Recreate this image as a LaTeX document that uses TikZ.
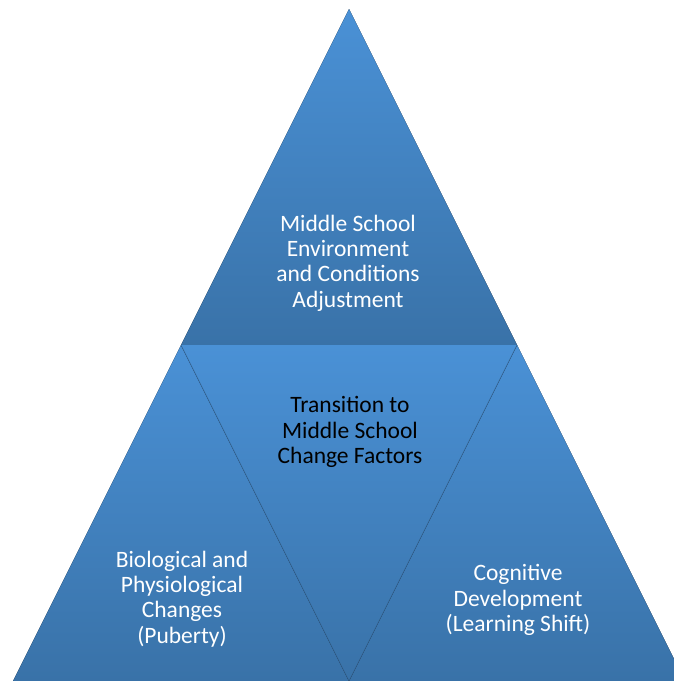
\documentclass[tikz,border=0pt]{standalone}
\usepackage{fontspec}
\setmainfont{Carlito}
\definecolor{blueTop}{RGB}{74,145,214}
\definecolor{blueBot}{RGB}{57,114,168}
\definecolor{edgeShade}{RGB}{50,95,140}
\begin{document}
\begin{tikzpicture}[x=1pt,y=-1pt,
  seg/.style={top color=blueTop,bottom color=blueBot,draw=none},
  segline/.style={draw=edgeShade,line width=0.7pt,opacity=0.5},
  lbl/.style={align=center,font=\fontsize{23.5}{25.3}\selectfont,text=white,inner sep=0pt},
  lblk/.style={lbl,text=black}]
\useasboundingbox (0,0) rectangle (674,681);
\coordinate (apex) at (349,9);
\coordinate (ml) at (181,345);
\coordinate (mr) at (517,345);
\coordinate (bl) at (13,681);
\coordinate (br) at (685,681);
\coordinate (bm) at (349,681);
\begin{scope}
\clip (0,0) rectangle (674,681);
\fill[seg] (apex) -- (mr) -- (ml) -- cycle;
\fill[seg] (ml) -- (bm) -- (bl) -- cycle;
\fill[seg] (mr) -- (br) -- (bm) -- cycle;
\fill[seg] (ml) -- (mr) -- (bm) -- cycle;
\draw[segline] (ml) -- (bm) -- (mr);
\end{scope}
\node[lbl] (top) at (348,263) {Middle School\\Environment\\and Conditions\\Adjustment};
\node[lblk] (mid) at (350,432) {Transition to\\Middle School\\Change Factors};
\node[lbl] (left) at (182,599) {Biological and\\Physiological\\Changes\\(Puberty)};
\node[lbl] (right) at (518,600) {Cognitive\\Development\\(Learning Shift)};
\end{tikzpicture}
\end{document}
